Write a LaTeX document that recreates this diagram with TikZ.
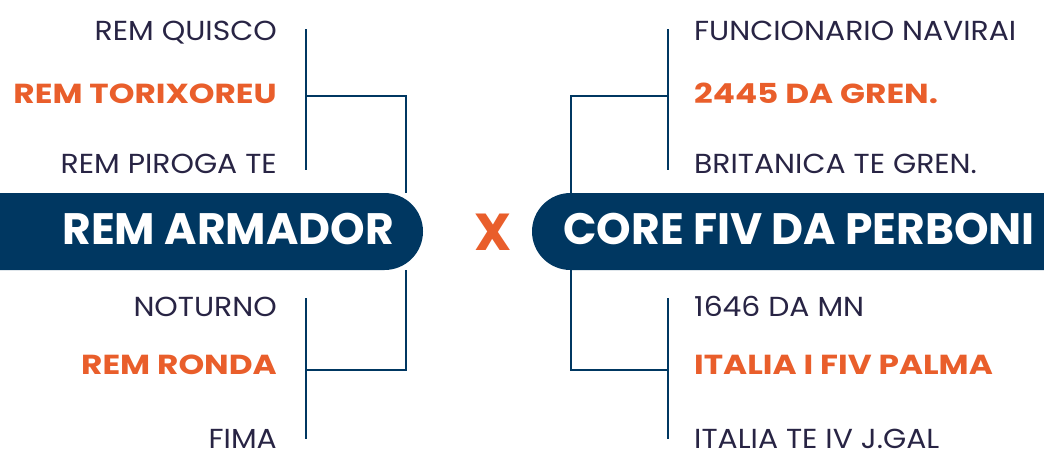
\documentclass[tikz,border=0pt]{standalone}
\usepackage{fontspec}
\setmainfont{Poppins}
\newfontfamily\lblfont[FakeStretch=1.085]{Poppins}
\newfontfamily\hlfont[FakeStretch=1.19]{Poppins}
\definecolor{navy}{HTML}{003761}
\definecolor{orng}{HTML}{E95E2B}
\definecolor{darktxt}{HTML}{282444}
\begin{document}
\begin{tikzpicture}[x=1pt,y=-1pt,
  lbl/.style={inner sep=0pt,font=\lblfont\fontsize{27.5}{27.5}\selectfont,text=darktxt},
  hl/.style={inner sep=0pt,font=\hlfont\fontsize{27.5}{27.5}\selectfont\bfseries,text=orng},
  bartxt/.style={inner sep=0pt,font=\fontsize{44}{44}\selectfont\bfseries,text=white},
  conn/.style={draw=navy,line width=2.4pt}]
\useasboundingbox (0,0) rectangle (1044,451);
\clip (0,0) rectangle (1044,451);
% bars
\fill[navy,rounded corners=38.5pt] (-60,193) rectangle (423,270);
\fill[navy,rounded corners=38.5pt] (532,193) rectangle (1120,270);
\node[bartxt,anchor=base east] (leftteam) at (394,244) {REM ARMADOR};
\node[bartxt,anchor=base west] (rightteam) at (563,244) {CORE FIV DA PERBONI};
\node[inner sep=0pt,font=\fontsize{52}{52}\selectfont\bfseries,text=orng] (vs) at (493,232) {X};
% left labels
\node[lbl,anchor=base east] (l1) at (277,40) {REM QUISCO};
\node[hl,anchor=base east] (l2) at (277,103) {REM TORIXOREU};
\node[lbl,anchor=base east] (l3) at (277,173) {REM PIROGA TE};
\node[lbl,anchor=base east] (l4) at (277,316) {NOTURNO};
\node[hl,anchor=base east] (l5) at (277,374) {REM RONDA};
\node[lbl,anchor=base east] (l6) at (277,448) {FIMA};
% right labels
\node[lbl,anchor=base west] (r1) at (694,40) {FUNCIONARIO NAVIRAI};
\node[hl,anchor=base west] (r2) at (694,103) {2445 DA GREN.};
\node[lbl,anchor=base west] (r3) at (694,173) {BRITANICA TE GREN.};
\node[lbl,anchor=base west] (r4) at (694,316) {1646 DA MN};
\node[hl,anchor=base west] (r5) at (694,374) {ITALIA I FIV PALMA};
\node[lbl,anchor=base west] (r6) at (694,448) {ITALIA TE IV J.GAL};
% bracket coordinates
\coordinate (lt1) at (306,29); \coordinate (lt2) at (306,170);
\coordinate (ltm) at (306,96); \coordinate (ltc) at (406,96); \coordinate (ltb) at (406,193);
\coordinate (lb1) at (306,298); \coordinate (lb2) at (306,439);
\coordinate (lbm) at (306,370); \coordinate (lbc) at (406,370); \coordinate (lbb) at (406,270);
\coordinate (rt1) at (668,29); \coordinate (rt2) at (668,170);
\coordinate (rtm) at (668,96); \coordinate (rtc) at (571,96); \coordinate (rtb) at (571,193);
\coordinate (rb1) at (668,298); \coordinate (rb2) at (668,439);
\coordinate (rbm) at (668,370); \coordinate (rbc) at (571,370); \coordinate (rbb) at (571,270);
\draw[conn] (lt1) -- (lt2);
\draw[conn] (ltm) -- (ltc) -- (ltb);
\draw[conn] (lb1) -- (lb2);
\draw[conn] (lbm) -- (lbc) -- (lbb);
\draw[conn] (rt1) -- (rt2);
\draw[conn] (rtm) -- (rtc) -- (rtb);
\draw[conn] (rb1) -- (rb2);
\draw[conn] (rbm) -- (rbc) -- (rbb);
\end{tikzpicture}
\end{document}
